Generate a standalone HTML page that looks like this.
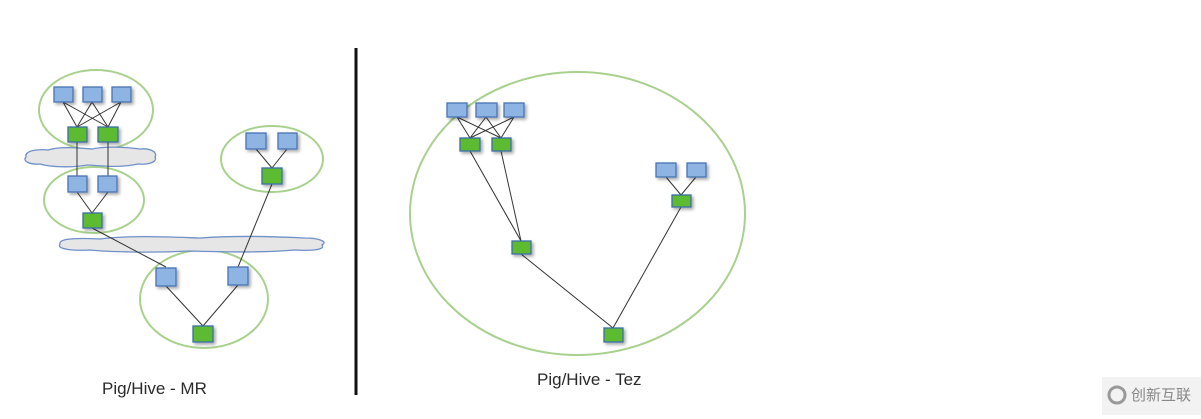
<!DOCTYPE html>
<html><head><meta charset="utf-8"><style>
html,body{margin:0;padding:0;background:#fff;}
svg{display:block}
</style></head><body>
<svg width="1201" height="419" viewBox="0 0 1201 419" xmlns="http://www.w3.org/2000/svg">
<defs>
<filter id="sh" x="-30%" y="-30%" width="170%" height="170%"><feGaussianBlur in="SourceAlpha" stdDeviation="1.5"/><feOffset dx="2" dy="2"/><feComponentTransfer><feFuncA type="linear" slope="0.35"/></feComponentTransfer><feMerge><feMergeNode/><feMergeNode in="SourceGraphic"/></feMerge></filter>
</defs>
<g fill="none" stroke="#a9d18e" stroke-width="2">
<ellipse cx="96" cy="110" rx="57" ry="40"/>
<ellipse cx="94" cy="200" rx="50" ry="33"/>
<ellipse cx="272" cy="159" rx="51" ry="33"/>
<ellipse cx="204" cy="299" rx="64" ry="49"/>
<ellipse cx="577.5" cy="213.5" rx="167.5" ry="141.5"/>
</g>
<g fill="#e6e6e6" stroke="#6f90c8" stroke-width="1.3">
<path d="M26,157 C24,150 40,149 48,150 C60,146 80,148 92,149 C105,146 125,147 140,149 C150,148 158,152 155,157 C158,162 148,165 138,164 C120,168 100,166 88,165 C70,168 50,167 40,164 C30,165 22,161 26,157 Z"/>
<path d="M60,244 C58,238 80,238 100,239 C130,235 170,237 200,238 C240,235 280,237 305,238 C320,238 328,242 322,245 C326,250 310,251 295,250 C260,253 220,252 190,251 C150,253 110,252 90,250 C72,251 56,249 60,244 Z"/>
</g>
<g stroke="#333" stroke-width="1" fill="none">
<line x1="63" y1="102" x2="77" y2="127"/><line x1="63" y1="102" x2="108" y2="127"/>
<line x1="92" y1="102" x2="77" y2="127"/><line x1="92" y1="102" x2="108" y2="127"/>
<line x1="121" y1="102" x2="77" y2="127"/><line x1="121" y1="102" x2="108" y2="127"/>
<line x1="77" y1="142" x2="77" y2="176"/><line x1="108" y1="142" x2="108" y2="176"/>
<line x1="77" y1="192" x2="92" y2="213"/><line x1="108" y1="192" x2="92" y2="213"/>
<line x1="92" y1="228" x2="166" y2="267"/>
<line x1="256" y1="149" x2="272" y2="168"/><line x1="287" y1="149" x2="272" y2="168"/>
<line x1="272" y1="184" x2="238" y2="267"/>
<line x1="166" y1="286" x2="203" y2="326"/><line x1="238" y1="285" x2="203" y2="326"/>
<line x1="457" y1="117" x2="470" y2="138"/><line x1="457" y1="117" x2="501" y2="138"/>
<line x1="486" y1="117" x2="470" y2="138"/><line x1="486" y1="117" x2="501" y2="138"/>
<line x1="514" y1="117" x2="470" y2="138"/><line x1="514" y1="117" x2="501" y2="138"/>
<line x1="470" y1="151" x2="521" y2="241"/><line x1="501" y1="151" x2="521" y2="241"/>
<line x1="521" y1="254" x2="613" y2="328"/>
<line x1="666" y1="177" x2="681" y2="195"/><line x1="696" y1="177" x2="681" y2="195"/>
<line x1="681" y1="207" x2="613" y2="328"/>
</g>
<g filter="url(#sh)" stroke-width="1.3">
<g fill="#8db4e2" stroke="#4a74b4">
<rect x="54" y="87" width="19" height="15"/><rect x="83" y="87" width="19" height="15"/><rect x="112" y="87" width="19" height="15"/>
<rect x="68" y="176" width="19" height="16"/><rect x="98" y="176" width="19" height="16"/>
<rect x="246" y="133" width="20" height="16"/><rect x="278" y="133" width="19" height="16"/>
<rect x="156" y="268" width="20" height="18"/><rect x="228" y="267" width="20" height="18"/>
<rect x="447" y="103" width="20" height="14"/><rect x="476" y="103" width="21" height="14"/><rect x="504" y="103" width="20" height="14"/>
<rect x="656" y="163" width="20" height="14"/><rect x="687" y="163" width="19" height="14"/>
</g>
<g fill="#5dbb33" stroke="#3c6ea6">
<rect x="68" y="127" width="19" height="15"/><rect x="98" y="127" width="20" height="15"/>
<rect x="83" y="213" width="19" height="15"/>
<rect x="262" y="168" width="20" height="16"/>
<rect x="193" y="326" width="20" height="16"/>
<rect x="460" y="138" width="20" height="13"/><rect x="492" y="138" width="19" height="13"/>
<rect x="512" y="241" width="19" height="13"/>
<rect x="672" y="195" width="19" height="12"/>
<rect x="604" y="328" width="19" height="14"/>
</g>
</g>
<line x1="356" y1="48" x2="356" y2="395" stroke="#111" stroke-width="3"/>
<g font-family="Liberation Sans, sans-serif" font-size="17" fill="#2a2a2a">
<text x="102" y="394">Pig/Hive - MR</text>
<text x="537" y="385">Pig/Hive - Tez</text>
</g>
<rect x="1102" y="377" width="99" height="38" fill="#f2f2f2"/>
<circle cx="1117" cy="395" r="8" fill="none" stroke="#999" stroke-width="3"/>
<text x="1131" y="400" font-family="Liberation Sans, Noto Sans CJK SC, sans-serif" font-size="15" fill="#888">创新互联</text>
</svg>
</body></html>
